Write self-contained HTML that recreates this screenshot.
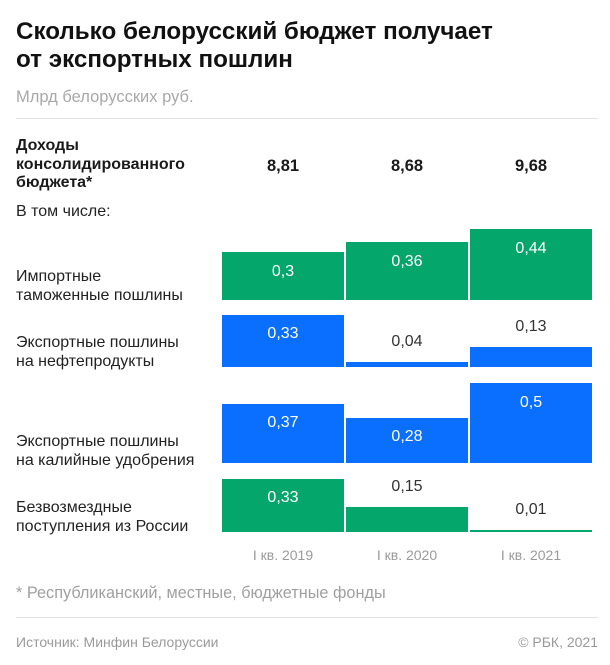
<!DOCTYPE html>
<html><head><meta charset="utf-8"><style>
html,body{margin:0;padding:0;background:#fff;}
body{width:610px;height:665px;position:relative;overflow:hidden;font-family:"Liberation Sans","Noto Sans CJK SC",sans-serif;color:#1a1a1a;}
.a{position:absolute;white-space:nowrap;}
.t{font-weight:bold;font-size:24.2px;line-height:28px;left:16px;color:#111;}
.lab{font-size:16px;line-height:19px;left:16px;color:#222;}
.bar{position:absolute;box-sizing:border-box;}
.g{background:#05a66c;}
.b{background:#0a6eff;}
.v{position:absolute;width:122px;text-align:center;font-size:16px;line-height:20px;}
.w{color:#fff;}
.d{color:#333;}
.x{position:absolute;width:122px;text-align:center;font-size:14px;line-height:18px;color:#9a9a9a;top:546px;}
.hr{position:absolute;left:16px;width:582px;height:1px;background:#e3e3e3;}
</style></head><body>
<div class="a t" style="top:18px">Сколько белорусский бюджет получает</div>
<div class="a t" style="top:46px">от экспортных пошлин</div>
<div class="a" style="left:16px;top:87px;font-size:16.5px;line-height:20px;color:#a8a8a8">Млрд белорусских руб.</div>
<div class="hr" style="top:118px"></div>

<div class="a" style="left:16px;top:137px;font-size:16px;line-height:18.5px;font-weight:bold;color:#1a1a1a">Доходы<br>консолидированного<br>бюджета*</div>
<div class="a" style="left:222px;width:122px;text-align:center;top:156px;font-size:16.5px;line-height:20px;font-weight:bold">8,81</div>
<div class="a" style="left:346px;width:122px;text-align:center;top:156px;font-size:16.5px;line-height:20px;font-weight:bold">8,68</div>
<div class="a" style="left:470px;width:122px;text-align:center;top:156px;font-size:16.5px;line-height:20px;font-weight:bold">9,68</div>
<div class="a" style="left:16px;top:202px;font-size:16px;line-height:20px;color:#222">В том числе:</div>

<div class="a lab" style="top:267px">Импортные<br>таможенные пошлины</div>
<div class="a lab" style="top:333px">Экспортные пошлины<br>на нефтепродукты</div>
<div class="a lab" style="top:432px">Экспортные пошлины<br>на калийные удобрения</div>
<div class="a lab" style="top:498px">Безвозмездные<br>поступления из России</div>

<!-- Row 1 -->
<div class="bar g" style="left:222px;width:122px;top:252px;height:48px"></div>
<div class="bar g" style="left:346px;width:122px;top:242px;height:58px"></div>
<div class="bar g" style="left:470px;width:122px;top:229px;height:71px"></div>
<div class="v w" style="left:222px;top:262px">0,3</div>
<div class="v w" style="left:346px;top:252px">0,36</div>
<div class="v w" style="left:470px;top:239px">0,44</div>

<!-- Row 2 -->
<div class="bar b" style="left:222px;width:122px;top:315px;height:52px"></div>
<div class="bar b" style="left:346px;width:122px;top:362px;height:5px"></div>
<div class="bar b" style="left:470px;width:122px;top:347px;height:20px"></div>
<div class="v w" style="left:222px;top:324px">0,33</div>
<div class="v d" style="left:346px;top:332px">0,04</div>
<div class="v d" style="left:470px;top:317px">0,13</div>

<!-- Row 3 -->
<div class="bar b" style="left:222px;width:122px;top:404px;height:59px"></div>
<div class="bar b" style="left:346px;width:122px;top:418px;height:45px"></div>
<div class="bar b" style="left:470px;width:122px;top:383px;height:80px"></div>
<div class="v w" style="left:222px;top:413px">0,37</div>
<div class="v w" style="left:346px;top:427px">0,28</div>
<div class="v w" style="left:470px;top:393px">0,5</div>

<!-- Row 4 -->
<div class="bar g" style="left:222px;width:122px;top:479px;height:53px"></div>
<div class="bar g" style="left:346px;width:122px;top:507px;height:25px"></div>
<div class="bar g" style="left:470px;width:122px;top:530px;height:2px"></div>
<div class="v w" style="left:222px;top:488px">0,33</div>
<div class="v d" style="left:346px;top:477px">0,15</div>
<div class="v d" style="left:470px;top:500px">0,01</div>

<div class="x" style="left:222px">I кв. 2019</div>
<div class="x" style="left:346px">I кв. 2020</div>
<div class="x" style="left:470px">I кв. 2021</div>

<div class="a" style="left:16px;top:583px;font-size:16.3px;line-height:20px;color:#a0a0a0">* Республиканский, местные, бюджетные фонды</div>
<div class="hr" style="top:617px"></div>
<div class="a" style="left:16px;top:633px;font-size:14px;line-height:18px;color:#9a9a9a">Источник: Минфин Белоруссии</div>
<div class="a" style="right:12px;top:633px;font-size:14px;line-height:18px;color:#9a9a9a">© РБК, 2021</div>
</body></html>
